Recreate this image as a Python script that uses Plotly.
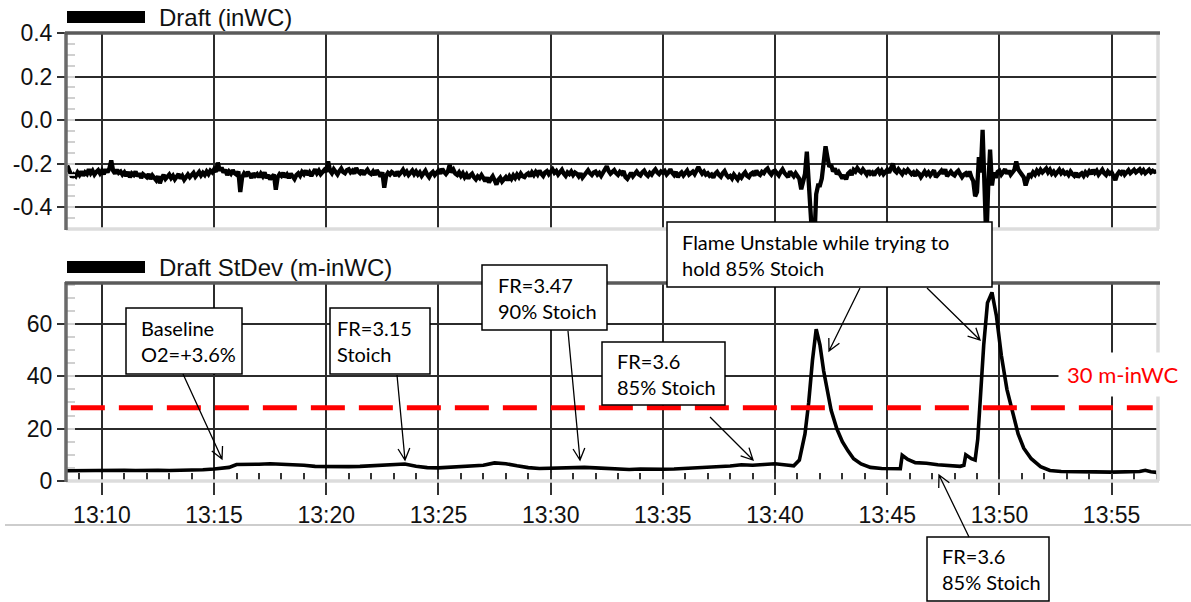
import math
import pandas as pd
import plotly.graph_objects as go

W, H = 1191, 602
DAY = "2020-01-01 "

# ---------------- data ----------------
# Draft (inWC), one sample every 5 s starting 13:08:20
draft_start = "13:08:20"
draft_values = [
    -0.212, -0.228, -0.220, -0.245, -0.262, -0.250, -0.258, -0.240,                  # 13:08:20-55
    -0.252, -0.236, -0.255, -0.240, -0.248, -0.226, -0.244, -0.232, -0.250, -0.238, -0.230, -0.245,  # 13:09
    -0.232, -0.248, -0.226, -0.240, -0.222, -0.185, -0.232, -0.246, -0.228, -0.242, -0.236, -0.250,  # 13:10
    -0.240, -0.256, -0.238, -0.262, -0.245, -0.252, -0.236, -0.258, -0.244, -0.266, -0.248, -0.255,  # 13:11
    -0.262, -0.248, -0.270, -0.254, -0.262, -0.276, -0.258, -0.290, -0.266, -0.252, -0.270, -0.258,  # 13:12
    -0.250, -0.266, -0.255, -0.272, -0.258, -0.248, -0.268, -0.256, -0.274, -0.260, -0.250, -0.262,  # 13:13
    -0.255, -0.242, -0.260, -0.246, -0.238, -0.254, -0.242, -0.252, -0.236, -0.248, -0.232, -0.240,  # 13:14
    -0.226, -0.238, -0.195, -0.232, -0.218, -0.240, -0.228, -0.252, -0.236, -0.246, -0.230, -0.244,  # 13:15
    -0.250, -0.236, -0.330, -0.262, -0.246, -0.258, -0.238, -0.250, -0.266, -0.244, -0.256, -0.248,  # 13:16
    -0.262, -0.246, -0.258, -0.240, -0.266, -0.252, -0.272, -0.260, -0.250, -0.320, -0.262, -0.248,  # 13:17
    -0.256, -0.242, -0.262, -0.250, -0.266, -0.246, -0.258, -0.270, -0.252, -0.244, -0.256, -0.238,  # 13:18
    -0.248, -0.232, -0.252, -0.240, -0.256, -0.236, -0.226, -0.244, -0.232, -0.248, -0.236, -0.228,  # 13:19
    -0.238, -0.190, -0.232, -0.244, -0.226, -0.240, -0.250, -0.234, -0.222, -0.238, -0.244, -0.230,  # 13:20
    -0.226, -0.240, -0.232, -0.246, -0.220, -0.236, -0.244, -0.230, -0.250, -0.238, -0.228, -0.242,  # 13:21
    -0.248, -0.236, -0.252, -0.230, -0.246, -0.258, -0.240, -0.310, -0.256, -0.242, -0.250, -0.238,  # 13:22
    -0.244, -0.256, -0.236, -0.250, -0.240, -0.228, -0.246, -0.236, -0.252, -0.240, -0.232, -0.248,  # 13:23
    -0.236, -0.250, -0.240, -0.256, -0.244, -0.232, -0.250, -0.262, -0.246, -0.238, -0.252, -0.240,  # 13:24
    -0.232, -0.246, -0.224, -0.238, -0.248, -0.236, -0.205, -0.240, -0.228, -0.246, -0.252, -0.240,  # 13:25
    -0.256, -0.244, -0.262, -0.250, -0.268, -0.254, -0.246, -0.262, -0.272, -0.258, -0.266, -0.252,  # 13:26
    -0.268, -0.280, -0.264, -0.286, -0.270, -0.258, -0.276, -0.296, -0.274, -0.264, -0.282, -0.270,  # 13:27
    -0.262, -0.276, -0.258, -0.270, -0.254, -0.266, -0.250, -0.262, -0.246, -0.258, -0.262, -0.250,  # 13:28
    -0.244, -0.258, -0.240, -0.252, -0.238, -0.250, -0.232, -0.246, -0.256, -0.240, -0.234, -0.248,  # 13:29
    -0.236, -0.226, -0.242, -0.234, -0.250, -0.238, -0.228, -0.246, -0.256, -0.240, -0.248, -0.236,  # 13:30
    -0.252, -0.240, -0.246, -0.258, -0.244, -0.264, -0.250, -0.238, -0.230, -0.244, -0.252, -0.240,  # 13:31
    -0.236, -0.250, -0.242, -0.256, -0.238, -0.228, -0.212, -0.234, -0.246, -0.238, -0.230, -0.244,  # 13:32
    -0.252, -0.238, -0.246, -0.234, -0.262, -0.270, -0.250, -0.242, -0.258, -0.246, -0.236, -0.248,  # 13:33
    -0.254, -0.240, -0.232, -0.248, -0.256, -0.242, -0.250, -0.236, -0.226, -0.240, -0.248, -0.236,  # 13:34
    -0.242, -0.234, -0.250, -0.240, -0.226, -0.242, -0.252, -0.238, -0.262, -0.248, -0.240, -0.254,  # 13:35
    -0.246, -0.232, -0.250, -0.240, -0.236, -0.248, -0.228, -0.215, -0.232, -0.246, -0.236, -0.250,  # 13:36
    -0.244, -0.256, -0.250, -0.264, -0.246, -0.238, -0.252, -0.260, -0.244, -0.234, -0.252, -0.262,  # 13:37
    -0.256, -0.268, -0.250, -0.262, -0.272, -0.254, -0.264, -0.250, -0.240, -0.256, -0.262, -0.248,  # 13:38
    -0.242, -0.254, -0.232, -0.246, -0.252, -0.238, -0.244, -0.230, -0.222, -0.240, -0.250, -0.236,  # 13:39
    -0.232, -0.244, -0.254, -0.238, -0.226, -0.242, -0.250, -0.262, -0.236, -0.248, -0.258, -0.244,  # 13:40
    -0.262, -0.270, -0.318, -0.280, -0.248, -0.145, -0.300, -0.420, -0.560, -0.560, -0.340, -0.300,  # 13:41
    -0.300, -0.268, -0.200, -0.120, -0.170, -0.215, -0.205, -0.236, -0.222, -0.248, -0.238, -0.258,  # 13:42
    -0.268, -0.252, -0.272, -0.246, -0.238, -0.252, -0.228, -0.236, -0.220, -0.232, -0.240, -0.226,  # 13:43
    -0.238, -0.250, -0.232, -0.246, -0.240, -0.254, -0.236, -0.228, -0.244, -0.232, -0.248, -0.238,  # 13:44
    -0.228, -0.242, -0.220, -0.200, -0.232, -0.240, -0.226, -0.236, -0.248, -0.232, -0.240, -0.228,  # 13:45
    -0.236, -0.248, -0.240, -0.256, -0.238, -0.246, -0.262, -0.244, -0.236, -0.250, -0.240, -0.254,  # 13:46
    -0.242, -0.230, -0.262, -0.250, -0.240, -0.232, -0.246, -0.226, -0.258, -0.246, -0.236, -0.248,  # 13:47
    -0.254, -0.240, -0.232, -0.248, -0.262, -0.250, -0.244, -0.258, -0.236, -0.262, -0.280, -0.350,  # 13:48
    -0.330, -0.170, -0.240, -0.045, -0.250, -0.560, -0.300, -0.135, -0.300, -0.240, -0.265, -0.238,  # 13:49
    -0.232, -0.250, -0.238, -0.226, -0.246, -0.232, -0.250, -0.240, -0.228, -0.190, -0.226, -0.238,  # 13:50
    -0.248, -0.262, -0.300, -0.270, -0.246, -0.256, -0.240, -0.250, -0.232, -0.244, -0.228, -0.240,  # 13:51
    -0.232, -0.222, -0.240, -0.228, -0.246, -0.236, -0.250, -0.238, -0.228, -0.244, -0.234, -0.246,  # 13:52
    -0.240, -0.252, -0.236, -0.248, -0.256, -0.242, -0.262, -0.250, -0.244, -0.256, -0.240, -0.250,  # 13:53
    -0.236, -0.248, -0.228, -0.242, -0.232, -0.250, -0.238, -0.228, -0.244, -0.252, -0.236, -0.246,  # 13:54
    -0.240, -0.255, -0.275, -0.250, -0.238, -0.246, -0.232, -0.250, -0.240, -0.230, -0.244, -0.236,  # 13:55
    -0.228, -0.240, -0.232, -0.226, -0.240, -0.230, -0.244, -0.236, -0.228, -0.240, -0.232, -0.238,  # 13:56
    -0.235,                                                                                          # 13:57:00
]

# Draft StDev (m-inWC)
stdev_times = [
    "13:08:20", "13:09:00", "13:09:30", "13:10:00", "13:10:30", "13:11:00",
    "13:11:30", "13:12:00", "13:12:30", "13:13:00", "13:13:30", "13:14:00",
    "13:14:30", "13:15:00", "13:15:20", "13:15:40", "13:16:00", "13:16:30",
    "13:17:00", "13:17:30", "13:18:00", "13:18:30", "13:19:00", "13:19:30",
    "13:20:00", "13:20:30", "13:21:00", "13:21:30", "13:22:00", "13:22:30",
    "13:23:00", "13:23:30", "13:24:00", "13:24:30", "13:25:00", "13:25:30",
    "13:26:00", "13:26:30", "13:27:00", "13:27:30", "13:28:00", "13:28:30",
    "13:29:00", "13:29:30", "13:30:00", "13:30:30", "13:31:00", "13:31:30",
    "13:32:00", "13:32:30", "13:33:00", "13:33:30", "13:34:00", "13:34:30",
    "13:35:00", "13:35:30", "13:36:00", "13:36:30", "13:37:00", "13:37:30",
    "13:38:00", "13:38:30", "13:39:00", "13:39:30", "13:40:00", "13:40:30",
    "13:40:50", "13:41:05", "13:41:12", "13:41:20", "13:41:30", "13:41:40",
    "13:41:50", "13:42:00", "13:42:10", "13:42:20", "13:42:30", "13:42:45",
    "13:43:00", "13:43:15", "13:43:30", "13:43:50", "13:44:15", "13:44:45",
    "13:45:15", "13:45:35", "13:45:40", "13:45:55", "13:46:15", "13:46:45",
    "13:47:15", "13:47:45", "13:48:15", "13:48:25", "13:48:30", "13:48:45",
    "13:48:55", "13:49:02", "13:49:10", "13:49:18", "13:49:28", "13:49:40",
    "13:49:52", "13:50:05", "13:50:20", "13:50:35", "13:50:50", "13:51:05",
    "13:51:25", "13:51:50", "13:52:15", "13:52:45", "13:53:30", "13:54:15",
    "13:55:00", "13:55:45", "13:56:15", "13:56:30", "13:56:45", "13:57:00",
]
stdev_values = [
    3.9, 4.0, 3.9, 4.0, 3.9, 4.1,
    4.0, 4.2, 4.1, 4.0, 4.1, 4.0,
    4.3, 4.6, 5.0, 5.2, 6.3, 6.2,
    6.4, 6.6, 6.5, 6.3, 6.0, 5.6,
    5.5, 5.7, 5.5, 5.6, 5.8, 5.9,
    6.2, 6.5, 5.6, 5.1, 5.0, 5.2,
    5.4, 5.6, 6.0, 6.9, 6.6, 5.8,
    5.1, 4.8, 4.9, 5.1, 5.0, 5.2,
    5.0, 4.8, 4.5, 4.4, 4.6, 4.4,
    4.5, 4.6, 4.8, 5.0, 5.3, 5.4,
    5.7, 6.2, 6.0, 6.3, 6.6, 6.1,
    5.8, 8.0, 13.0, 18.0, 30.0, 46.0,
    58.0, 52.0, 42.0, 34.0, 27.0, 20.0,
    15.0, 11.5, 8.5, 6.5, 5.2, 4.8,
    4.6, 4.7, 9.8, 8.2, 7.0, 6.8,
    6.2, 5.9, 5.6, 6.0, 10.0, 8.5,
    8.0, 16.0, 35.0, 52.0, 68.0, 72.0,
    63.0, 48.0, 35.0, 26.0, 18.0, 12.5,
    8.5, 5.5, 4.0, 3.6, 3.4, 3.5,
    3.4, 3.5, 3.6, 4.1, 3.5, 3.3,
]

threshold_times = ["13:08:37", "13:56:50"]
threshold_values = [28, 28]
threshold_label = "30 m-inWC"

draft_title = "Draft (inWC)"
stdev_title = "Draft StDev (m-inWC)"
draft_tickvals = [-0.4, -0.2, 0.0, 0.2, 0.4]
draft_ticktext = ["-0.4", "-0.2", "0.0", "0.2", "0.4"]
stdev_tickvals = [0, 20, 40, 60]
stdev_ticktext = ["0", "20", "40", "60"]
time_range = ["13:08:24", "13:57:04"]

note_texts = [
    "Baseline<br>O2=+3.6%",
    "FR=3.15<br>Stoich",
    "FR=3.47<br>90% Stoich",
    "FR=3.6<br>85% Stoich",
    "Flame Unstable while trying to<br>hold 85% Stoich",
    "FR=3.6<br>85% Stoich",
]

# ---------------- figure ----------------
draft_x = pd.date_range(DAY + draft_start, periods=len(draft_values), freq="5s")
stdev_x = [DAY + t for t in stdev_times]
thr_x = [DAY + t for t in threshold_times]
xr = [DAY + t for t in time_range]


def px(x):
    return x / W


def py(y):
    return 1 - y / H


# plot areas (window pixels)
L, R = 66, 1158
TOP1, BOT1 = 33, 229
TOP2, BOT2 = 283, 481

fig = go.Figure()
fig.add_trace(go.Scatter(x=draft_x, y=draft_values, xaxis="x2", yaxis="y2",
                         mode="lines", line=dict(color="black", width=4.3),
                         hoverinfo="skip"))
fig.add_trace(go.Scatter(x=stdev_x, y=stdev_values, xaxis="x", yaxis="y",
                         mode="lines", line=dict(color="black", width=3.6),
                         hoverinfo="skip"))
fig.add_trace(go.Scatter(x=thr_x, y=threshold_values, xaxis="x", yaxis="y",
                         mode="lines", line=dict(color="#ff0000", width=5, dash="34px,14px"),
                         hoverinfo="skip"))

tickfont = dict(family="Liberation Sans, Arial, sans-serif", size=23, color="#111111")
grid = dict(showgrid=True, gridcolor="#2b2b2b", gridwidth=1.5, zeroline=False,
            showline=False, automargin=False)

fig.update_layout(
    width=W, height=H,
    margin=dict(l=0, r=0, t=0, b=0, autoexpand=False),
    paper_bgcolor="white", plot_bgcolor="white",
    showlegend=False,
    xaxis=dict(domain=[px(L), px(R)], anchor="y", type="date", range=xr,
               tickformat="%H:%M", dtick=300000, tick0=DAY + "13:10:00",
               ticks="outside", ticklen=13, tickwidth=1.5, tickcolor="#333333",
               tickfont=tickfont,
               minor=dict(ticks="inside", dtick=60000, tick0=DAY + "13:10:00",
                          ticklen=8, tickwidth=1.5, tickcolor="#333333", showgrid=False),
               **grid),
    xaxis2=dict(domain=[px(L), px(R)], anchor="y2", type="date", range=xr,
                matches="x", showticklabels=False, ticks="",
                dtick=300000, tick0=DAY + "13:10:00", **grid),
    yaxis=dict(domain=[py(BOT2), py(TOP2)], anchor="x", range=[0, 75.6],
               tickvals=stdev_tickvals, ticktext=stdev_ticktext,
               ticks="outside", ticklen=8, tickwidth=1.5, tickcolor="#333333",
               tickfont=tickfont,
               minor=dict(ticks="inside", dtick=5, ticklen=9, tickwidth=1.5,
                          tickcolor="#d0d0d0", showgrid=False),
               **grid),
    yaxis2=dict(domain=[py(BOT1), py(TOP1)], anchor="x2", range=[-0.5, 0.4],
                tickvals=draft_tickvals, ticktext=draft_ticktext,
                ticks="outside", ticklen=8, tickwidth=1.5, tickcolor="#333333",
                tickfont=tickfont,
                minor=dict(ticks="inside", dtick=0.05, ticklen=9, tickwidth=1.5,
                           tickcolor="#d0d0d0", showgrid=False),
                **grid),
)

shapes = []


def pline(x0, y0, x1, y1, color, width):
    shapes.append(dict(type="line", xref="paper", yref="paper",
                       x0=px(x0), y0=py(y0), x1=px(x1), y1=py(y1),
                       line=dict(color=color, width=width), layer="above"))


# frames
for top, bot in [(TOP1, BOT1), (TOP2, BOT2)]:
    pline(R, top, R, bot, "#dcdcdc", 3.5)
    pline(L, bot, R + 1, bot, "#dcdcdc", 3.5)
    pline(L, top - 1, L, bot + 1, "#6a6a6a", 3.5)
    pline(L - 1, top, R + 2, top, "#5a5a5a", 3.5)

# footer rule
pline(5, 525, W, 525, "#bdbdbd", 1.5)

# legend swatches
for y0, y1 in [(11, 23), (261, 273)]:
    shapes.append(dict(type="rect", xref="paper", yref="paper",
                       x0=px(67), x1=px(145), y0=py(y1), y1=py(y0),
                       fillcolor="black", line=dict(width=0), layer="above"))

# note boxes (left, top, right, bottom, text-left)
boxes = [
    (126, 308, 242, 374, 139),
    (330, 308, 430, 374, 335),
    (482, 265, 607, 330, 496),
    (602, 342, 725, 405, 615),
    (667, 222, 992, 287, 680),
    (927, 537, 1049, 601, 940),
]
annotations = []
notefont = dict(family="Lato, Carlito, sans-serif", size=20, color="black")
for (x0, y0, x1, y1, tx), txt in zip(boxes, note_texts):
    shapes.append(dict(type="rect", xref="paper", yref="paper",
                       x0=px(x0), x1=px(x1), y0=py(y1), y1=py(y0),
                       fillcolor="white", line=dict(color="black", width=1.5),
                       layer="above"))
    annotations.append(dict(xref="paper", yref="paper", x=px(tx), y=py((y0 + y1) / 2),
                            xanchor="left", yanchor="middle", align="left",
                            text=txt, showarrow=False, font=notefont))

# arrows (tail -> head, window pixels)
arrows = [
    ((183, 374), (222, 459)),
    ((397, 375), (405, 460)),
    ((568, 331), (580, 460)),
    ((710, 417), (753, 460)),
    ((860, 288), (829, 351)),
    ((927, 288), (980, 340)),
    ((969, 537), (939, 475)),
]
for (tx, ty), (hx, hy) in arrows:
    dx, dy = tx - hx, ty - hy
    n = math.hypot(dx, dy)
    ux, uy = dx / n, dy / n
    legs = []
    for a in (math.radians(27), math.radians(-27)):
        lx = ux * math.cos(a) - uy * math.sin(a)
        ly = ux * math.sin(a) + uy * math.cos(a)
        legs.append((hx + 13 * lx, hy + 13 * ly))
    path = (f"M {px(tx)} {py(ty)} L {px(hx)} {py(hy)} "
            f"M {px(legs[0][0])} {py(legs[0][1])} L {px(hx)} {py(hy)} "
            f"L {px(legs[1][0])} {py(legs[1][1])}")
    shapes.append(dict(type="path", xref="paper", yref="paper", path=path,
                       line=dict(color="black", width=1.3), layer="above"))

# titles
titlefont = dict(family="Liberation Sans, Arial, sans-serif", size=24, color="#111111")
for ytxt, txt in [(17, draft_title), (267, stdev_title)]:
    annotations.append(dict(xref="paper", yref="paper", x=px(157), y=py(ytxt),
                            xanchor="left", yanchor="middle", text=txt,
                            showarrow=False, font=titlefont))

# threshold label
annotations.append(dict(xref="paper", yref="paper", x=px(1058), y=py(374),
                        xanchor="left", yanchor="middle", text=threshold_label,
                        showarrow=False, bgcolor="white", borderpad=8,
                        font=dict(family="Lato, Carlito, sans-serif", size=22, color="#ff0000")))

fig.update_layout(shapes=shapes, annotations=annotations)
# remove the browser's default 8 px body margin so the figure fills the window
fig.write_html("out.html", config={"displayModeBar": False},
               post_script="document.body.style.margin='0px';")
